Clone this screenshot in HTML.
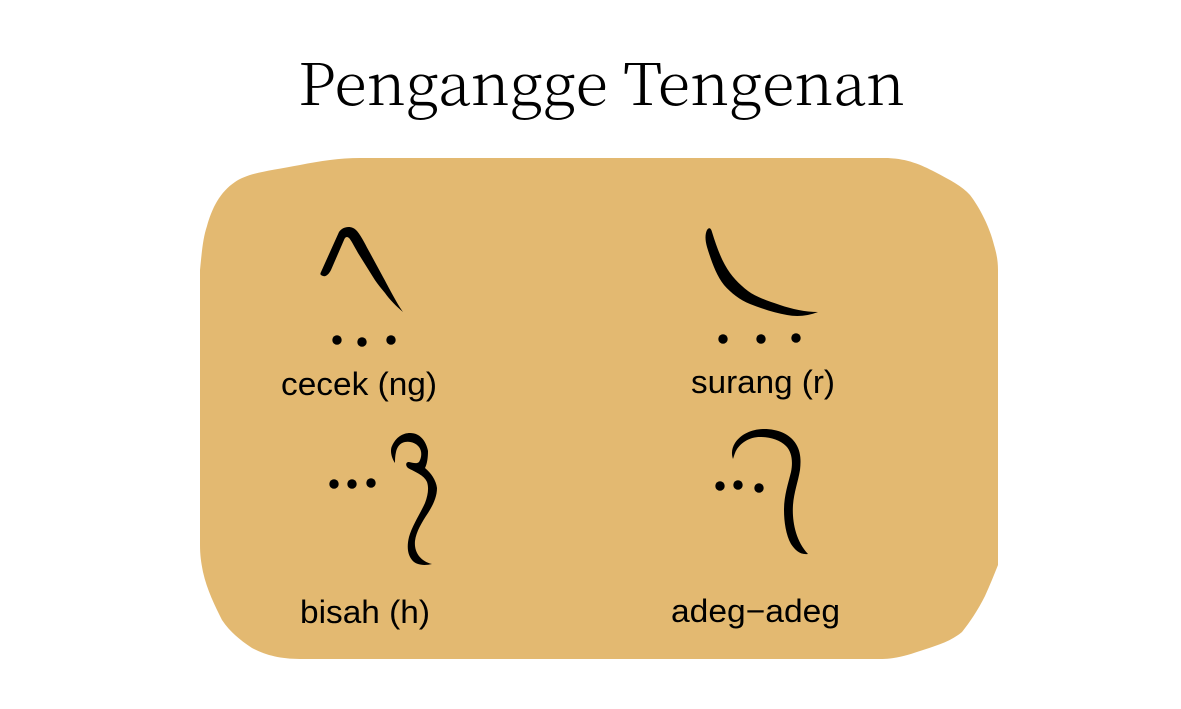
<!DOCTYPE html>
<html lang="jv">
<head>
<meta charset="utf-8">
<title>Pengangge Tengenan</title>
<style>
html,body{margin:0;padding:0;background:#fff;width:1181px;height:709px;overflow:hidden}
svg{display:block}
.label{font-family:"Liberation Sans",sans-serif;font-size:32px;fill:#000}
.title{font-family:"Noto Serif CJK SC","Liberation Serif",serif;font-size:58px;fill:#000;font-weight:300}
.stroke{fill:#000}
.panel{fill:#e3b971}
</style>
</head>
<body>
<svg width="1181" height="709" viewBox="0 0 1181 709">
  <text class="title" x="298" y="105" textLength="607" lengthAdjust="spacingAndGlyphs">Pengangge Tengenan</text>

  <path class="panel" d="M200 270 C202 250 203 238 207 226 C212 208 220 192 235 182 C248 173 268 171 300 165 C320 161 340 158 360 158 L885 158 C905 158 920 164 935 172 C950 180 962 186 970 195 C980 208 990 228 994 245 C997 255 998 262 998 270 L998 565 C994 575 990 585 985 596 C978 610 970 622 962 632 C950 642 935 646 920 651 C905 656 895 659 880 659 L300 659 C280 659 265 655 252 648 C240 640 230 632 222 620 C215 606 207 590 203 572 C201 562 200 555 200 545 Z"/>

  <g>
    <path class="stroke" d="M321 272 L339 232 C343 226 352 225 357 231 C362 237 366 246 370 253 L383 277 C388 286 396 302 403 312 C396 306 390 300 385 293 C380 287 376 282 373 277 L358 253 C354 246 351 240 349 238 C347 236 345 237 344 240 L331 270 C329 274 326 277 323 276 C320 275 320 274 321 272Z"/>
    <circle cx="337" cy="340" r="4.7"/>
    <circle cx="362" cy="342" r="4.7"/>
    <circle cx="391" cy="340" r="4.7"/>
    <text class="label" x="281" y="395" textLength="156" lengthAdjust="spacingAndGlyphs">cecek (ng)</text>
  </g>

  <g>
    <path class="stroke" d="M707 230 C709 227 711 228 712 232 C716 245 720 256 725 265 C731 276 739 284 748 291 C756 297 768 301 780 305 C792 309 805 312 818 312 C808 316 797 317 787 315 C775 313 763 309 750 304 C740 300 731 293 724 285 C716 275 711 260 707 247 C705 240 705 234 707 230Z"/>
    <circle cx="723" cy="339" r="4.7"/>
    <circle cx="761" cy="339" r="4.7"/>
    <circle cx="796" cy="338" r="4.7"/>
    <text class="label" x="691" y="393" textLength="144" lengthAdjust="spacingAndGlyphs">surang (r)</text>
  </g>

  <g>
    <path class="stroke" d="M395 463 C391 457 390 450 392 446 C396 437 403 433 410 433 C420 433 426 441 428 451 C428 458 427 464 425 468 C431 473 436 480 437 488 C437 497 433 505 428 513 C422 522 416 532 415 541 C414 552 420 561 432 564 C424 566 416 565 412 560 C407 554 407 545 409 537 C412 526 420 514 425 503 C428 495 429 488 427 482 C424 475 415 472 408 468 C405 465 406 462 409 462 C413 463 417 464 419 462 C422 457 422 451 419 447 C416 443 410 441 405 442 C400 443 397 447 396 452 C395 456 395 460 395 463Z"/>
    <circle cx="334" cy="484" r="4.7"/>
    <circle cx="352" cy="484" r="4.7"/>
    <circle cx="371" cy="483" r="4.7"/>
    <text class="label" x="300" y="623" textLength="130" lengthAdjust="spacingAndGlyphs">bisah (h)</text>
  </g>

  <g>
    <path class="stroke" d="M733 459 C731 453 732 448 735 443 C741 434 752 429 764 429 C778 429 790 434 796 444 C801 452 801 461 800 470 C798 482 794 492 793 505 C792 520 795 540 808 554 C800 555 795 550 791 544 C786 535 784 522 784 510 C784 496 788 484 791 472 C793 462 792 452 786 446 C780 440 770 437 760 437 C750 437 742 442 737 449 C735 452 734 456 733 459Z"/>
    <circle cx="720" cy="486" r="4.7"/>
    <circle cx="738" cy="485" r="4.7"/>
    <circle cx="759" cy="488" r="4.7"/>
    <text class="label" x="671" y="622" textLength="169" lengthAdjust="spacingAndGlyphs">adeg−adeg</text>
  </g>
</svg>
</body>
</html>
